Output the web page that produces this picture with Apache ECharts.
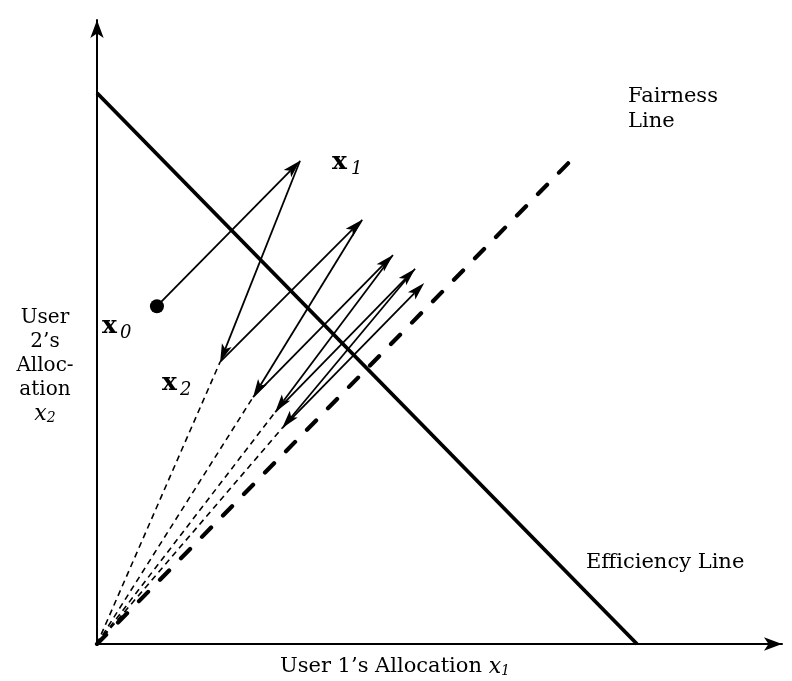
<!DOCTYPE html>
<html><head><meta charset="utf-8">
<script src="https://cdn.jsdelivr.net/npm/echarts@6/dist/echarts.min.js"></script>
<style>html,body{margin:0;padding:0;background:#fff}#c{width:792px;height:681px}</style>
</head><body><div id="c"></div>
<script>
// Trajectory of allocations x0 -> x1 -> x2 -> ... (alternating additive increase / multiplicative decrease)
const trajX = [0.111, 0.376, 0.228, 0.491, 0.289, 0.548, 0.330, 0.589, 0.343, 0.606];
const trajY = [0.613, 0.877, 0.512, 0.770, 0.448, 0.706, 0.421, 0.681, 0.392, 0.655];
// Points reached after multiplicative decrease (dashed lines to origin)
const decreaseIdx = [2, 4, 6, 8];
// Efficiency line x1 + x2 = 1
const efficiencyX = [0, 1];
const efficiencyY = [1, 0];
// Fairness line x1 = x2
const fairnessX = [0, 0.88];
const fairnessY = [0, 0.88];
const xMax = 1.2685;
const yMax = 1.1325;

const chart = echarts.init(document.getElementById('c'), null, {renderer: 'canvas'});

const arrowData = [];
for (let i = 0; i + 1 < trajX.length; i++) {
  arrowData.push([trajX[i], trajY[i], trajX[i + 1], trajY[i + 1]]);
}

function renderArrow(params, api) {
  const p0 = api.coord([api.value(0), api.value(1)]);
  const p1 = api.coord([api.value(2), api.value(3)]);
  const dx = p1[0] - p0[0], dy = p1[1] - p0[1];
  const len = Math.hypot(dx, dy);
  const ux = dx / len, uy = dy / len;
  const L = 18, W = 5.2, N = 14;
  const bx = p1[0] - ux * L, by = p1[1] - uy * L;
  const nx = p1[0] - ux * N, ny = p1[1] - uy * N;
  const px = -uy, py = ux;
  return {
    type: 'group',
    children: [
      {type: 'line', shape: {x1: p0[0], y1: p0[1], x2: nx, y2: ny}, style: {stroke: '#000', lineWidth: 1.8}},
      {type: 'polygon', shape: {points: [[p1[0], p1[1]], [bx + px * W, by + py * W], [nx, ny], [bx - px * W, by - py * W]]}, style: {fill: '#000'}}
    ]
  };
}

const series = [];
series.push({
  type: 'line', data: efficiencyX.map((x, i) => [x, efficiencyY[i]]), symbol: 'none',
  lineStyle: {color: '#000', width: 3.8}, silent: true, z: 3
});
series.push({
  type: 'line', data: fairnessX.map((x, i) => [x, fairnessY[i]]), symbol: 'none',
  lineStyle: {color: '#000', width: 4.2, type: [13, 17], cap: 'round'}, silent: true, z: 3
});
decreaseIdx.forEach(function (k) {
  series.push({
    type: 'line', data: [[0, 0], [trajX[k], trajY[k]]], symbol: 'none',
    lineStyle: {color: '#000', width: 1.6, type: [6, 4.5]}, silent: true, z: 2
  });
});
series.push({
  type: 'custom', renderItem: renderArrow, data: arrowData,
  encode: {x: [0, 2], y: [1, 3]}, silent: true, z: 4
});
series.push({
  type: 'scatter', data: [[trajX[0], trajY[0]]], symbol: 'circle', symbolSize: 14,
  itemStyle: {color: '#000', opacity: 1}, silent: true, z: 5
});

const serif = '"DejaVu Serif"';
const FS = 21;
function txt(x, y, text, font, align) {
  return {type: 'text', x: x, y: y, style: {text: text, font: font, fill: '#000', align: align || 'left', verticalAlign: 'middle'}};
}

chart.setOption({
  animation: false,
  backgroundColor: '#fff',
  grid: {left: 97, right: 10, top: 20, bottom: 37, containLabel: false},
  xAxis: {
    type: 'value', min: 0, max: xMax,
    axisLine: {show: true, lineStyle: {color: '#000', width: 2}, symbol: ['none', 'arrow'], symbolSize: [10, 18]},
    axisTick: {show: false}, axisLabel: {show: false}, splitLine: {show: false}
  },
  yAxis: {
    type: 'value', min: 0, max: yMax,
    axisLine: {show: true, lineStyle: {color: '#000', width: 2}, symbol: ['none', 'arrow'], symbolSize: [10, 18]},
    axisTick: {show: false}, axisLabel: {show: false}, splitLine: {show: false}
  },
  series: series,
  graphic: [
    txt(628, 97, 'Fairness', FS + 'px ' + serif),
    txt(628, 122, 'Line', FS + 'px ' + serif),
    txt(586, 563, 'Efficiency Line', FS + 'px ' + serif),
    {type: 'text', x: 280, y: 667, style: {
      text: "{r|User 1’s Allocation }{i|x}{s|1}", verticalAlign: 'middle',
      rich: {
        r: {font: FS + 'px ' + serif, fill: '#000'},
        i: {font: 'italic ' + (FS + 1) + 'px ' + serif, fill: '#000'},
        s: {font: 'italic 14px ' + serif, fill: '#000', padding: [9, 0, 0, 0]}
      }
    }},
    {type: 'text', x: 45, y: 306, style: {
      text: "User\n2’s\nAlloc-\nation", font: (FS - 1) + 'px ' + serif, fill: '#000', lineHeight: 24, align: 'center', verticalAlign: 'top'
    }},
    {type: 'text', x: 45, y: 414, style: {
      text: "{i|x}{s|2}", align: 'center', verticalAlign: 'middle',
      rich: {
        i: {font: 'italic ' + (FS + 1) + 'px ' + serif, fill: '#000'},
        s: {font: 'italic 14px ' + serif, fill: '#000', padding: [9, 0, 0, 0]}
      }
    }},
    txt(102, 326, 'x', 'bold 25px ' + serif),
    txt(120, 333, '0', 'italic 18px ' + serif),
    txt(332, 162, 'x', 'bold 25px ' + serif),
    txt(351, 169, '1', 'italic 18px ' + serif),
    txt(162, 383, 'x', 'bold 25px ' + serif),
    txt(180, 390, '2', 'italic 18px ' + serif)
  ]
});
</script></body></html>
